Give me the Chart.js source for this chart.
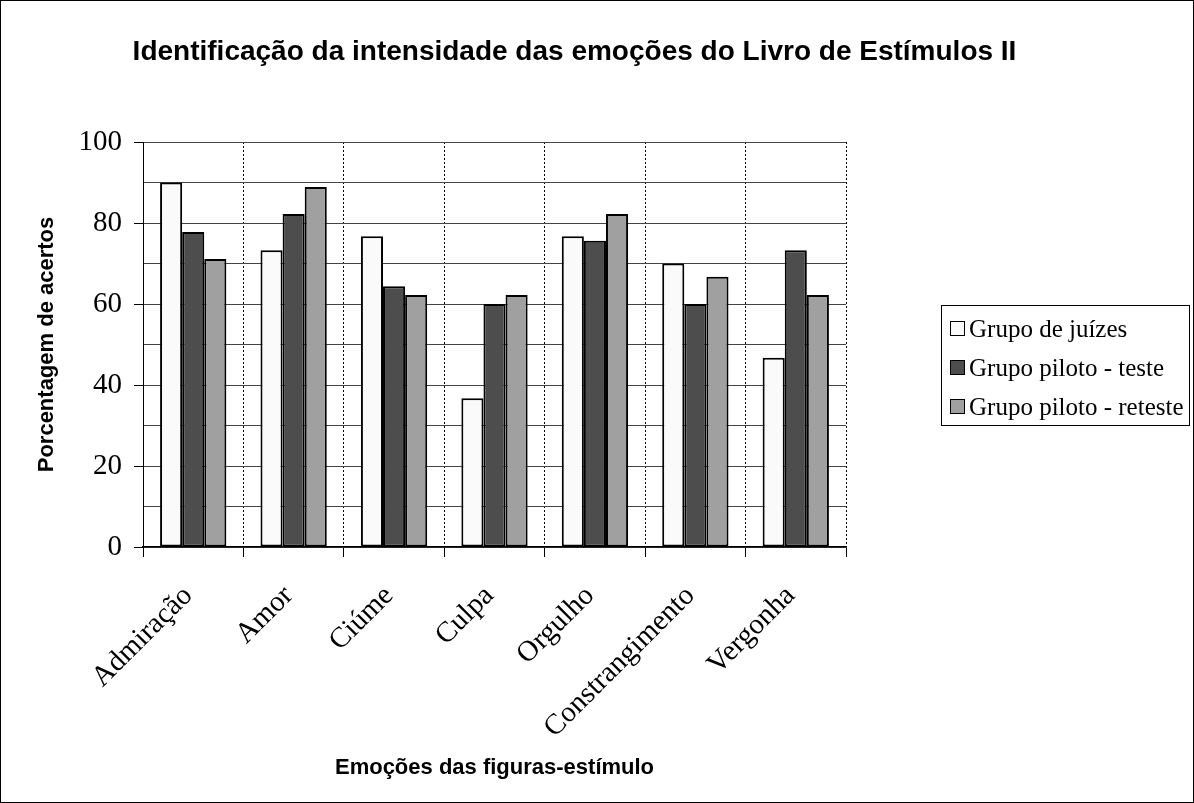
<!DOCTYPE html>
<html>
<head>
<meta charset="utf-8">
<script src="https://cdn.jsdelivr.net/npm/chart.js@4.4.1/dist/chart.umd.min.js"></script>
<style>
  html, body { margin: 0; padding: 0; background: #fff; }
  #wrap { width: 1194px; height: 803px; position: relative; }
</style>
</head>
<body>
<div id="wrap"><canvas id="c" width="1194" height="803"></canvas></div>
<script>
const chartTitle = 'Identificação da intensidade das emoções do Livro de Estímulos II';
const xTitle = 'Emoções das figuras-estímulo';
const yTitle = 'Porcentagem de acertos';
const categories = ['Admiração', 'Amor', 'Ciúme', 'Culpa', 'Orgulho', 'Constrangimento', 'Vergonha'];
const seriesNames = ['Grupo de juízes', 'Grupo piloto - teste', 'Grupo piloto - reteste'];
const juizes  = [90.0, 73.3, 76.7, 36.7, 76.7, 70.0, 46.7];
const teste   = [77.8, 82.2, 64.4, 60.0, 75.6, 60.0, 73.3];
const reteste = [71.1, 88.9, 62.2, 62.2, 82.2, 66.7, 62.2];
const yTickLabels = [0, 20, 40, 60, 80, 100];

const serif = "'Liberation Serif', 'Times New Roman', 'DejaVu Serif', serif";
const sans = "'Liberation Sans', Arial, 'DejaVu Sans', sans-serif";

const decor = {
  id: 'decor',
  afterDraw(chart) {
    const ctx = chart.ctx;
    ctx.save();
    ctx.strokeStyle = '#000';
    ctx.lineWidth = 1;
    ctx.strokeRect(0.5, 0.5, chart.width - 1, chart.height - 1);
    ctx.fillStyle = '#000';
    ctx.font = 'bold 28px ' + sans;
    ctx.textAlign = 'center';
    ctx.textBaseline = 'middle';
    ctx.fillText(chartTitle, 574.5, 52);
    const lx = 941, ly = 305, lw = 248, lh = 120;
    ctx.strokeRect(lx + 0.5, ly + 0.5, lw, lh);
    ctx.font = '25px ' + serif;
    ctx.textAlign = 'left';
    const rows = [329, 368, 407];
    chart.data.datasets.forEach((ds, i) => {
      const cy = rows[i];
      ctx.fillStyle = ds.backgroundColor;
      ctx.fillRect(950.5, cy - 7.5, 14, 14);
      ctx.strokeStyle = '#000';
      ctx.lineWidth = 1;
      ctx.strokeRect(950.5, cy - 7.5, 14, 14);
      ctx.fillStyle = '#000';
      ctx.fillText(ds.label, 969, cy + 1);
    });
    ctx.restore();
  }
};

new Chart(document.getElementById('c'), {
  type: 'bar',
  data: {
    labels: categories,
    datasets: [
      { label: seriesNames[0], data: juizes,  backgroundColor: '#fafafa' },
      { label: seriesNames[1], data: teste,   backgroundColor: '#4d4d4d' },
      { label: seriesNames[2], data: reteste, backgroundColor: '#a0a0a0' }
    ].map(d => Object.assign(d, {
      borderColor: '#000', borderWidth: 2, borderSkipped: false,
      categoryPercentage: 0.66, barPercentage: 1.0
    }))
  },
  options: {
    responsive: false,
    animation: false,
    events: [],
    layout: { padding: { left: 0, right: 348, top: 142, bottom: 0 } },
    plugins: { legend: { display: false }, title: { display: false }, tooltip: { enabled: false } },
    scales: {
      x: {
        offset: true,
        grid: {
          offset: true, color: '#000', lineWidth: 1,
          tickLength: 10, tickColor: '#000', tickBorderDash: [], drawTicks: true
        },
        border: { display: true, color: '#000', width: 1.5, dash: [2, 2] },
        ticks: {
          color: '#000', font: { family: serif, size: 29 },
          minRotation: 45, maxRotation: 45, autoSkip: false, padding: 22, labelOffset: -5
        },
        title: {
          display: true, text: xTitle, color: '#000',
          font: { family: sans, size: 22, weight: 'bold' },
          padding: { top: 22, bottom: 22 }
        },
        afterFit(s) { s.height = 256; }
      },
      y: {
        min: 0, max: 100,
        grid: {
          color: '#444', lineWidth: 1, tickLength: 9,
          tickColor: (c) => (c.tick && yTickLabels.includes(c.tick.value)) ? '#000' : 'rgba(0,0,0,0)'
        },
        border: { display: true, color: '#000', width: 1 },
        ticks: {
          stepSize: 10, autoSkip: false, padding: 12, color: '#000',
          font: { family: serif, size: 29 },
          callback: (v) => yTickLabels.includes(v) ? String(v) : ''
        },
        title: {
          display: true, text: yTitle, color: '#000',
          font: { family: sans, size: 22, weight: 'bold' },
          padding: { top: 34, bottom: 34 }
        },
        afterFit(s) { s.width = 143; }
      }
    }
  },
  plugins: [decor]
});
</script>
</body>
</html>
